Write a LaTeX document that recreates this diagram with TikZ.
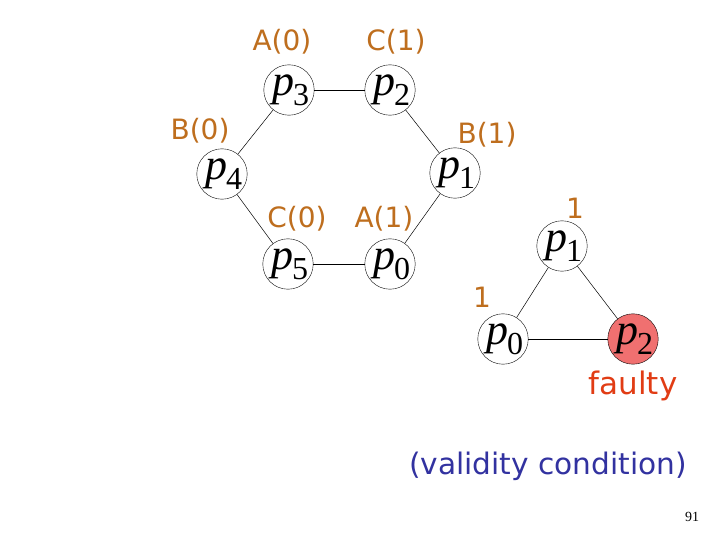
\documentclass[tikz,border=0pt]{standalone}
\usepackage{fontspec}
\newfontfamily\lblfont{DejaVu Sans}
\newfontfamily\pfont{Liberation Serif}
\definecolor{lblorange}{RGB}{190,110,30}
\definecolor{faultred}{RGB}{225,60,20}
\definecolor{faultfill}{RGB}{240,112,112}
\definecolor{validblue}{RGB}{50,50,160}
\newcommand{\pnm}[1]{\makebox[40pt][r]{{\pfont\fontsize{44}{44}\selectfont\itshape p}\kern-1pt\raisebox{-10pt}{\pfont\fontsize{32}{32}\selectfont #1}}}
\begin{document}
\begin{tikzpicture}[x=1pt,y=-1pt,
  proc/.style={circle,draw,thin,minimum size=47pt,inner sep=0pt},
  lbl/.style={text=lblorange,font=\lblfont\fontsize{28}{28}\selectfont,inner sep=0pt},
  edge/.style={draw,line width=0.5pt}]
\useasboundingbox (0,0) rectangle (720,540);
% hexagon
\node[proc] (h3) at (289,90) {\pnm{3}};
\node[proc] (h2) at (390,90) {\pnm{2}};
\node[proc] (h4) at (222,174) {\pnm{4}};
\node[proc] (h1) at (455,173) {\pnm{1}};
\node[proc] (h5) at (288,264) {\pnm{5}};
\node[proc] (h0) at (390,264) {\pnm{0}};
\path[edge] (h3) -- (h2);
\path[edge] (h3) -- (h4);
\path[edge] (h2) -- (h1);
\path[edge] (h4) -- (h5);
\path[edge] (h1) -- (h0);
\path[edge] (h5) -- (h0);
\node[lbl] (la0) at (282,42) {A(0)};
\node[lbl] (lc1) at (396,42) {C(1)};
\node[lbl] (lb0) at (200,131) {B(0)};
\node[lbl] (lb1) at (487,135) {B(1)};
\node[lbl] (lc0) at (297,219) {C(0)};
\node[lbl] (la1) at (384,219) {A(1)};
% triangle
\node[proc] (t1) at (562,246) {\pnm{1}};
\node[proc] (t0) at (503,339) {\pnm{0}};
\node[proc,fill=faultfill] (t2) at (633,339) {\pnm{2}};
\path[edge] (t1) -- (t0);
\path[edge] (t1) -- (t2);
\path[edge] (t0) -- (t2);
\node[lbl] (l1a) at (575,208) {1};
\node[lbl] (l1b) at (482,297) {1};
\node[lbl,text=faultred,font=\lblfont\fontsize{31}{31}\selectfont] (fl) at (633,386) {faulty};
\node[lbl,text=validblue,font=\lblfont\fontsize{29.6}{30}\selectfont] (vc) at (548,466) {(validity condition)};
\node[font=\pfont\fontsize{14}{14}\selectfont,inner sep=0pt] (pg) at (692,517) {91};
\end{tikzpicture}
\end{document}
